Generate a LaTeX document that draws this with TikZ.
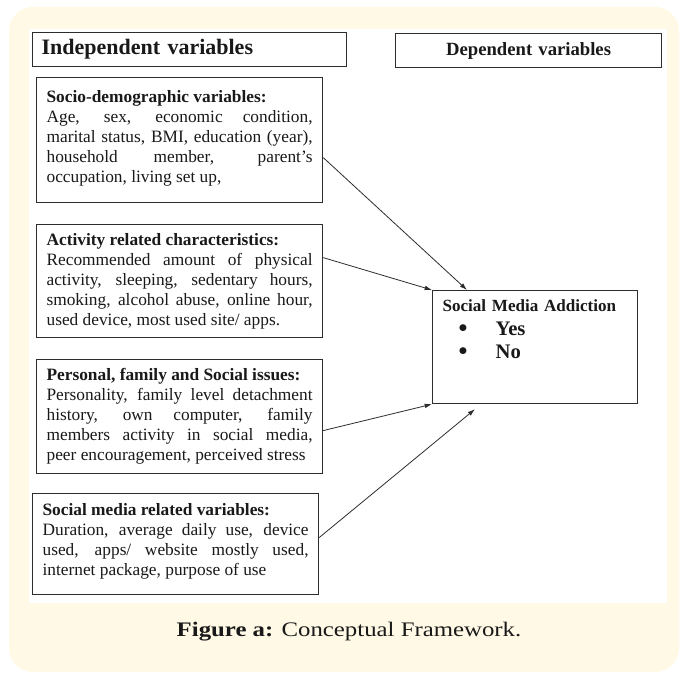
\documentclass[tikz,border=0pt]{standalone}
\usepackage{fontspec}
\setmainfont{Liberation Serif}
\newfontfamily\capfont[FakeStretch=1.2]{Liberation Serif}
\usetikzlibrary{positioning, arrows.meta}
\definecolor{cream}{RGB}{255,249,230}
\definecolor{boxline}{RGB}{45,45,45}
\definecolor{ink}{RGB}{25,25,25}

\begin{document}
\begin{tikzpicture}[x=0.75pt, y=-0.75pt,
    varbox/.style={draw=boxline, line width=0.9pt, fill=white, text=ink, anchor=north west,
        inner xsep=7.5pt, inner ysep=0pt, text width=199.5pt, align=justify,
        font=\fontsize{13pt}{15pt}\selectfont},
    headbox/.style={draw=boxline, line width=0.9pt, text=ink, anchor=north west,
        inner ysep=0pt, minimum height=25.5pt, font=\bfseries},
    link/.style={-{Latex[length=5.5pt,width=3.5pt]}, line width=0.6pt, draw=boxline}]

    \useasboundingbox (0,0) rectangle (680,673);
    \fill[white] (0,0) rectangle (680,673);
    \fill[cream, rounded corners=18pt] (9,7) rectangle (679,672);
    \fill[white] (29,29) rectangle (667,603);

    % column headings
    \node[headbox, inner xsep=6.75pt, text width=222pt, align=left,
        font=\bfseries\fontsize{16.5pt}{19pt}\selectfont] (indep) at (32,32) {Independent variables};
    \node[headbox, inner xsep=0pt, text width=199.5pt, align=center,
        font=\bfseries\fontsize{14pt}{16pt}\selectfont] (dep) at (395,33) {Dependent variables};

    % independent variables
    \node[varbox, text height=18.75pt, text depth=75pt] (socio) at (36,77)
        {\textbf{Socio-demographic variables:}\\
         Age, sex, economic condition,\linebreak
         marital status, BMI, education (year),\linebreak
         household member, parent's\linebreak
         occupation, living set up,};
    \node[varbox, text height=15.75pt, text depth=69pt] (activ) at (36,224)
        {\textbf{Activity related characteristics:}\\
         Recommended amount of physical\linebreak
         activity, sleeping, sedentary hours,\linebreak
         smoking, alcohol abuse, online hour,\linebreak
         used device, most used site/ apps.};
    \node[varbox, text height=15.75pt, text depth=69.75pt] (person) at (36,359)
        {\textbf{Personal, family and Social issues:}\\
         Personality, family level detachment\linebreak
         history, own computer, family\linebreak
         members activity in social media,\linebreak
         peer encouragement, perceived stress};
    \node[varbox, text height=16.5pt, text depth=59.25pt] (smedia) at (32,493)
        {\textbf{Social media related variables:}\\
         Duration, average daily use, device\linebreak
         used, apps/ website mostly used,\linebreak
         internet package, purpose of use};

    % dependent variable
    \node[varbox, text width=138.75pt, align=left, text height=15.75pt, text depth=69pt,
        font=\bfseries\fontsize{12.8pt}{17.6pt}\selectfont] (sma) at (432,290)
        {Social Media Addiction\\
         \hspace*{12pt}\makebox[27.75pt][l]{\raisebox{-1pt}{\fontsize{19pt}{19pt}\selectfont\textbullet}}{\fontsize{15.5pt}{17.6pt}\selectfont Yes}\\
         \hspace*{12pt}\makebox[27.75pt][l]{\raisebox{-1pt}{\fontsize{19pt}{19pt}\selectfont\textbullet}}{\fontsize{15.5pt}{17.6pt}\selectfont No}};

    \draw[link] ([yshift=-13.1pt]socio.east) -- ([xshift=26.25pt]sma.north west);
    \draw[link] ([yshift=17.6pt]activ.east) -- (sma.north west);
    \draw[link] ([yshift=-10.5pt]person.east) -- (sma.south west);
    \draw[link] ([yshift=4.9pt]smedia.east) -- ([xshift=32.25pt,yshift=-3.75pt]sma.south west);

    \node[text=ink, font=\capfont\fontsize{15.5pt}{18pt}\selectfont] (caption) at (349,632)
        {\textbf{Figure a:} Conceptual Framework.};
\end{tikzpicture}
\end{document}
